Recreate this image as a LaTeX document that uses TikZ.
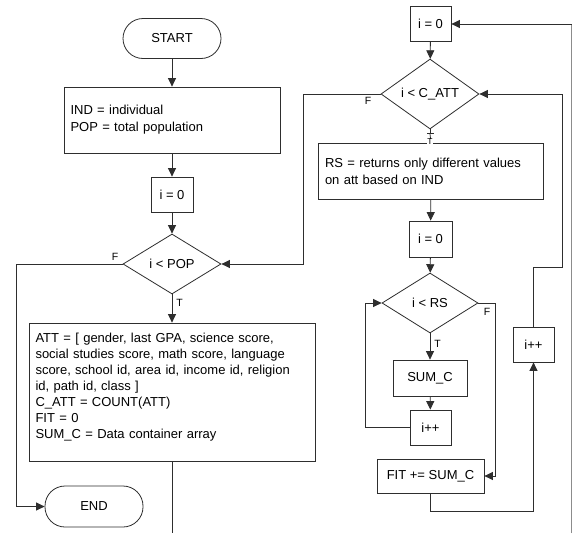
\documentclass[tikz,border=0pt]{standalone}
\usepackage{fontspec}
\setmainfont{Liberation Sans}
\usetikzlibrary{shapes.geometric,arrows.meta}

\tikzset{
  ln/.style={draw=black!82, line width=0.8pt},
  flow/.style={ln, -{Triangle[length=8.5pt,width=8pt]}},
  box/.style={ln, rectangle, inner sep=0pt, font=\fontsize{13}{16}\selectfont},
  term/.style={box, rounded corners=20pt},
  cond/.style={ln, diamond, inner sep=0pt, font=\fontsize{13}{16}\selectfont},
  txtbox/.style={box, align=left, inner xsep=6.5pt},
  tag/.style={font=\fontsize{10.5}{11}\selectfont, inner sep=0pt}
}

\begin{document}
\begin{tikzpicture}[x=1pt, y=-1pt]
\useasboundingbox (0,0) rectangle (572,533);
\fill[white] (0,0) rectangle (572,533);

% ---------------- outer loop over the population ----------------
\node[term, minimum width=98pt, minimum height=40pt] (start) at (172,38.5) {START};
\node[txtbox, text width=203pt, minimum height=66pt,
      font=\fontsize{13}{17}\selectfont] (defs) at (172,120)
  {IND = individual\\POP = total population};
\node[box, minimum width=42pt, minimum height=35pt] (ipop) at (172,194.5) {i = 0};
\node[cond, minimum width=98pt, minimum height=60pt] (dpop) at (172,264) {i < POP};
\node[txtbox, text width=273pt, minimum height=138pt] (init) at (172,392)
  {ATT = [ gender, last GPA, science score,\\
   social studies score, math score, language\\
   score, school id, area id, income id, religion\\
   id, path id, class ]\\
   C\_ATT = COUNT(ATT)\\
   FIT = 0\\
   SUM\_C = Data container array\rule[-13pt]{0pt}{13pt}};
\node[term, minimum width=98pt, minimum height=41pt] (end) at (94,506.5) {END};

% ---------------- loop over the attributes ----------------
\node[box, minimum width=41pt, minimum height=35pt] (iatt) at (430.5,24) {i = 0};
\node[cond, minimum width=98pt, minimum height=60pt] (datt) at (430,94) {i < C\_ATT};
\node[txtbox, text width=212pt, minimum height=56pt,
      font=\fontsize{13}{17}\selectfont] (rs) at (431,171)
  {RS = returns only different values\\on att based on IND};
\node[box, minimum width=43pt, minimum height=36pt] (irs) at (430.5,239) {i = 0};
\node[cond, minimum width=96pt, minimum height=60pt] (drs) at (430,303) {i < RS};
\node[box, minimum width=74pt, minimum height=36pt] (sumc) at (430,378) {SUM\_C};
\node[box, minimum width=41pt, minimum height=35pt] (incrs) at (430.5,427.5) {i++};
\node[box, minimum width=107pt, minimum height=34pt] (fit) at (430.5,476) {FIT += SUM\_C};
\node[box, minimum width=41pt, minimum height=35pt] (incatt) at (533.5,344.5) {i++};

% free ends of the connector that leaves the picture
\coordinate (down) at (172,533);
\coordinate (edgebot) at (571.6,533);
\coordinate (edgetop) at (571.6,24);
\coordinate (tick) at (430,134);

% ---------------- connectors, population loop ----------------
\draw[flow] (start) -- (defs);
\draw[flow] (defs) -- (ipop);
\draw[flow] (ipop) -- (dpop);
\draw[flow] (dpop.south) -- node[tag, pos=0.3, right=4pt] {T} (init.north);
\draw[flow] (dpop.west) -- (16,264) -- (16,506.5) -- (end.west);
\node[tag] (fpop) at (115,256.5) {F};
\draw[ln] (init.south) -- (down);
\draw[draw=black!45, line width=0.8pt] (edgebot) -- (edgetop);
\draw[flow] (edgetop) -- (iatt.east);

% ---------------- connectors, attribute loop ----------------
\draw[flow] (iatt) -- (datt);
\draw[ln, -{Bar[width=7pt]}] (datt.south) -- (tick);
\draw[ln] (tick) -- (rs.north);
\node[tag, font=\fontsize{8.5}{9}\selectfont, fill=white, inner sep=0.3pt] (trs) at (430,142) {T};
\draw[flow] (datt.west) -- (303,94) -- (303,264) -- (dpop.east);
\node[tag] (fatt) at (368,101) {F};
\draw[flow] (rs) -- (irs);
\draw[flow] (irs) -- (drs);
\draw[flow] (drs.south) -- node[tag, pos=0.4, right=4pt] {T} (sumc.north);
\draw[flow] (sumc) -- (incrs);
\draw[flow] (incrs.west) -- (365,427.5) -- (365,303) -- (drs.west);
\draw[flow] (drs.east) -- (495,303) -- (495,476) -- (fit.east);
\node[tag] (frs) at (487,312) {F};
\draw[flow] (fit.south) -- (430.5,511) -- (533.5,511) -- (incatt.south);
\draw[flow] (incatt.north) -- (533.5,267) -- (562,267) -- (562,94) -- (datt.east);
\end{tikzpicture}
\end{document}
